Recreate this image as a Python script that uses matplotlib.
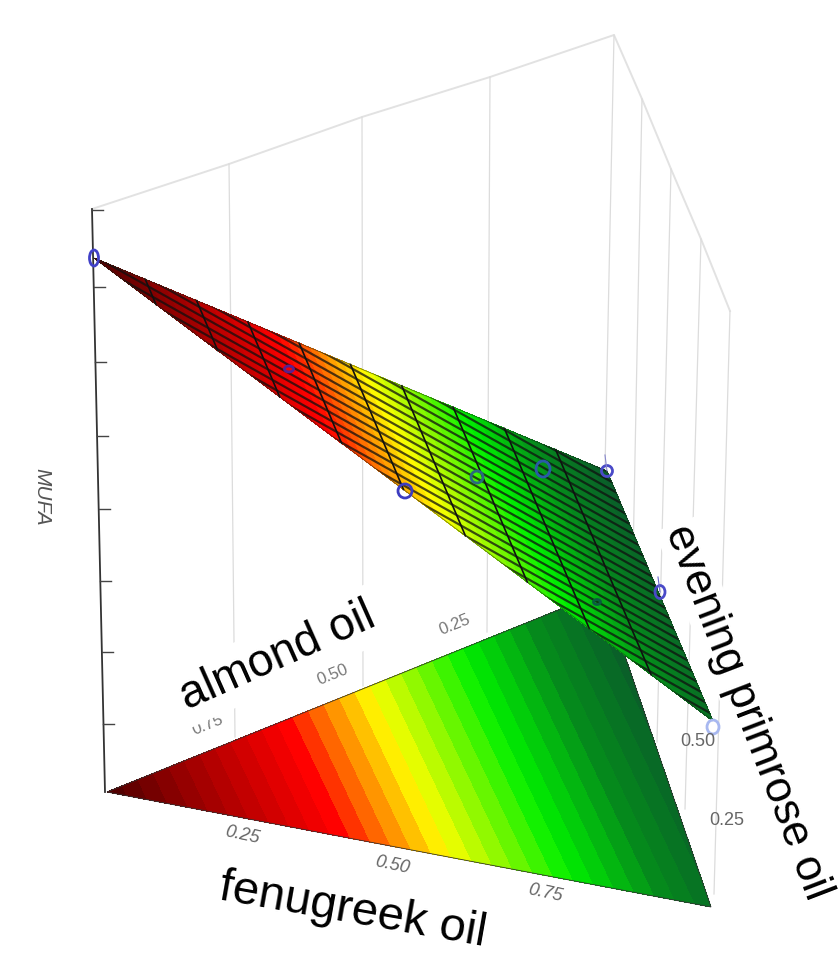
#!/usr/bin/env python3
import numpy as np
import matplotlib
matplotlib.use('Agg')
import matplotlib.pyplot as plt
from matplotlib.colors import LinearSegmentedColormap
from matplotlib.patches import Polygon, Ellipse

plt.rcParams['font.family'] = ['Liberation Sans', 'DejaVu Sans']

# projected positions (pixels)
surface_x = [94, 607, 713]
surface_y = [259, 472, 722]
surface_mufa = [100, 0, 7]
base_x = [107, 603, 711]
base_y = [793, 593, 908]
base_mufa = [100, 0, 7]

frame_x = [92, 229, 362, 490, 614, 642, 671, 701, 730]
frame_y = [210, 165, 118, 78, 36, 100, 170, 240, 312]
wall_bottom_x = [235, 363, 487, 605, 631, 657, 685, 714]
wall_bottom_y = [738, 687, 633, 470, 663, 743, 810, 895]

axis_x = [92, 105]
axis_y = [210, 793]
axis_ticks_y = [211, 288, 363, 437, 510, 582, 653, 725]

points_x = [94, 289, 405, 477, 543, 607, 660, 597, 713]
points_y = [259, 370, 492, 478, 470, 472, 593, 603, 728]
points_w = [9, 9, 14, 12, 14, 11, 10, 7, 12]
points_h = [16, 6, 14, 12, 16, 11, 13, 5, 14]
points_col = ['#4040c8', '#5a2090', '#3c3cc0', '#2a6a80', '#2a5aa8',
              '#4a4ac8', '#4a4ac8', '#0a5a40', '#a8b8f0']

base_ticks = ['0.25', '0.50', '0.75']
fenugreek_x = [242, 392, 545]
fenugreek_y = [835, 865, 893]
almond_x = [208, 333, 455]
almond_y = [725, 675, 625]
almond_ticks = ['0.75', '0.50', '0.25']
primrose_x = [698, 727]
primrose_y = [742, 821]
primrose_ticks = ['0.50', '0.25']

ramp = [(0.0, '#4a0000'), (0.12, '#8c0000'), (0.33, '#f00000'), (0.36, '#ff0000'),
        (0.44, '#ff8000'), (0.53, '#ffff00'), (0.72, '#00f000'), (0.86, '#058a1c'),
        (1.0, '#0a5c2a')]
cmap = LinearSegmentedColormap.from_list('mufa', [(p, c) for p, c in ramp])

fig = plt.figure(figsize=(8.39, 9.62), dpi=100)
ax = fig.add_axes([0, 0, 1, 1])
ax.set_xlim(0, 839)
ax.set_ylim(962, 0)
ax.axis('off')

# back walls
ax.plot(frame_x, frame_y, color='#e2e2e2', lw=1.4, zorder=1)
for i in range(len(wall_bottom_x)):
    ax.plot([frame_x[i + 1], wall_bottom_x[i]], [frame_y[i + 1], wall_bottom_y[i]],
            color='#dcdcdc', lw=0.9, zorder=1)

# vertical axis
ax.plot(axis_x, axis_y, color='#333333', lw=1.3, zorder=2)
for t in axis_ticks_y:
    x0 = np.interp(t, axis_y, axis_x)
    ax.plot([x0, x0 + 11], [t, t], color='#444444', lw=1.0, zorder=2)

# contour on the base
levels = np.linspace(0, 100, 33)
ax.tricontourf(base_x, base_y, [100 - z for z in base_mufa], levels=levels,
               cmap=cmap, zorder=3)
ax.add_patch(Polygon(list(zip(base_x, base_y)), closed=True, fill=False,
                     edgecolor='#333333', lw=0.6, zorder=4))

# surface
levels2 = np.linspace(0, 100, 65)
ax.tricontourf(surface_x, surface_y, [100 - z for z in surface_mufa], levels=levels2,
               cmap=cmap, zorder=5)
clip = Polygon(list(zip(surface_x, surface_y)), closed=True, transform=ax.transData)

# shallow mesh lines
for c in np.arange(-74, 125, 8.0):
    ln, = ax.plot([94, 720], [259 + c, 259 + c + 0.56 * (720 - 94)],
                  color='#101010', lw=1.6, alpha=0.75, zorder=6)
    ln.set_clip_path(clip)

# steep mesh lines
for k in range(1, 10):
    f = k / 10
    ux = surface_x[0] + f * (surface_x[1] - surface_x[0])
    uy = surface_y[0] + f * (surface_y[1] - surface_y[0])
    lx = surface_x[0] + f * (surface_x[2] - surface_x[0])
    ly = surface_y[0] + f * (surface_y[2] - surface_y[0])
    ax.plot([ux, lx], [uy, ly], color='#101010', lw=1.2, zorder=6)
ax.add_patch(Polygon(list(zip(surface_x, surface_y)), closed=True, fill=False,
                     edgecolor='#1a2a1a', lw=0.6, alpha=0.6, zorder=6))

# design points
for x, y, w, h, c in zip(points_x, points_y, points_w, points_h, points_col):
    ax.add_patch(Ellipse((x, y), w, h, fill=False, edgecolor=c, lw=2.0, zorder=7))
ax.plot([607, 605], [472, 456], color='#8888cc', lw=0.8, zorder=7)
ax.plot([660, 658], [593, 578], color='#6666cc', lw=0.8, zorder=7)

# small gray labels
for x, y, s in zip(fenugreek_x, fenugreek_y, base_ticks):
    ax.text(x, y, s, fontsize=13, style='italic', color='#666666', rotation=-12,
            ha='center', va='center', zorder=8)
for x, y, s in zip(almond_x, almond_y, almond_ticks):
    ax.text(x, y, s, fontsize=12, color='#777777', rotation=22,
            ha='center', va='center', zorder=8)
for x, y, s in zip(primrose_x, primrose_y, primrose_ticks):
    ax.text(x, y, s, fontsize=13, color='#666666', ha='center', va='center', zorder=8)
ax.text(42, 497, 'MUFA', fontsize=15, style='italic', color='#555555', rotation=270,
        ha='center', va='center', zorder=8)

# big labels pasted over the plot
box = dict(facecolor='white', edgecolor='none', pad=6.0)
ax.text(278, 657, 'almond oil', fontsize=33, rotation=24, rotation_mode='anchor',
        ha='center', va='center', color='black', bbox=box, zorder=9)
ax.text(353, 911, 'fenugreek oil', fontsize=34, rotation=-10, rotation_mode='anchor',
        ha='center', va='center', color='black', zorder=9)
ax.text(747, 712, 'evening primrose oil', fontsize=32, rotation=-69, rotation_mode='anchor',
        ha='center', va='center', color='black', bbox=dict(facecolor='white', edgecolor='none', pad=1.0), zorder=9)

fig.savefig('out.png', dpi=100)
